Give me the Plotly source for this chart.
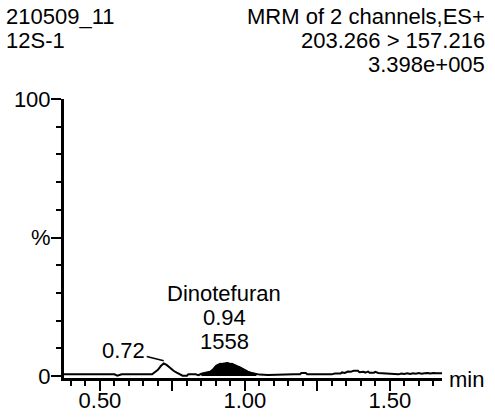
import plotly.graph_objects as go

# Chromatogram trace (retention time in min, intensity in % of full scale)
time_min = [0.376, 0.550, 0.560, 0.575, 0.680, 0.700, 0.710, 0.720, 0.730, 0.745,
            0.755, 0.765, 0.775, 0.785, 0.800, 0.805, 0.830, 0.840, 0.850, 0.860,
            0.870, 0.880, 0.890, 0.895, 0.900, 0.905, 0.910, 0.915, 0.920, 0.925,
            0.930, 0.935, 0.940, 0.945, 0.950, 0.955, 0.960, 0.965, 0.970, 0.975,
            0.980, 0.985, 0.990, 0.995, 1.000, 1.005, 1.010, 1.020, 1.030, 1.040,
            1.050, 1.080, 1.100, 1.150, 1.160, 1.170, 1.190, 1.195, 1.210, 1.215,
            1.300, 1.310, 1.330, 1.335, 1.345, 1.355, 1.365, 1.375, 1.390, 1.395,
            1.410, 1.415, 1.425, 1.430, 1.445, 1.450, 1.460, 1.480, 1.500, 1.520,
            1.530, 1.540, 1.550, 1.560, 1.570, 1.580, 1.590, 1.600, 1.610, 1.620,
            1.630, 1.640, 1.650, 1.660, 1.680]
intensity = [0.6, 0.6, 0.1, 0.6, 0.6, 2.2, 3.6, 4.5, 4.0, 2.6,
             1.8, 1.2, 0.6, 0.1, 0.1, 0.6, 0.6, 0.3, 0.8, 1.0,
             1.3, 1.5, 2.3, 3.0, 3.6, 3.9, 4.2, 4.4, 4.3, 4.5,
             4.5, 4.6, 4.7, 4.5, 4.3, 4.4, 4.1, 3.9, 3.8, 3.5,
             3.3, 3.0, 2.7, 2.4, 2.2, 1.9, 1.6, 1.2, 0.9, 0.7,
             0.5, 0.4, 0.5, 0.5, 0.7, 0.6, 0.6, 1.1, 1.1, 0.6,
             0.6, 0.9, 0.9, 1.3, 1.1, 1.6, 1.5, 1.9, 1.9, 1.4,
             1.5, 1.2, 1.6, 1.2, 1.2, 1.5, 1.1, 1.0, 0.9, 0.9,
             0.6, 0.9, 0.7, 1.0, 0.7, 1.0, 0.8, 1.1, 0.8, 1.0,
             1.1, 0.9, 1.1, 1.0, 1.0]

# Integrated peak window
peak_start, peak_end = 0.845, 1.045
peak_name = "Dinotefuran"
peak_rt = 0.94
peak_area = 1558
minor_peak_rt = 0.72

header_left = ["210509_11", "12S-1"]
header_right = ["MRM of 2 channels,ES+", "203.266 > 157.216", "3.398e+005"]

x_major = [0.50, 0.75, 1.00, 1.25, 1.50]
x_major_text = ["0.50", "", "1.00", "", "1.50"]
y_major = [0, 50, 100]
y_major_text = ["0", "%", "100"]

FONT = "Liberation Sans, Arial, sans-serif"
FS = 22
W, H = 495, 417
L, R, T, B = 64, 53, 99, 39

def px_x(p):
    return (p - L) / (W - L - R)

def px_y(p):
    return (H - B - p) / (H - T - B)

fig = go.Figure()

pk_x = [t for t in time_min if peak_start <= t <= peak_end]
pk_y = [v for t, v in zip(time_min, intensity) if peak_start <= t <= peak_end]
fig.add_trace(go.Scatter(x=pk_x, y=pk_y, mode="lines", fill="tozeroy",
                         fillcolor="black", line=dict(color="black", width=1),
                         hoverinfo="skip"))
fig.add_trace(go.Scatter(x=time_min, y=intensity, mode="lines",
                         line=dict(color="black", width=2)))

annotations = []
for i, s in enumerate(header_left):
    annotations.append(dict(text=s, xref="paper", yref="paper", x=px_x(4),
                            y=px_y(17 + 23.5 * i), xanchor="left", yanchor="middle",
                            showarrow=False))
for i, s in enumerate(header_right):
    annotations.append(dict(text=s, xref="paper", yref="paper", x=px_x(487),
                            y=px_y(17 + 23.5 * i), xanchor="right", yanchor="middle",
                            showarrow=False))
annotations.append(dict(text="min", xref="paper", yref="paper", x=px_x(447),
                        y=px_y(379), xanchor="left", yanchor="middle",
                        showarrow=False))

# Peak label: name, retention time and area stacked above the apex
pk_top = max(pk_y)
for i, s in enumerate([peak_name, f"{peak_rt:.2f}", f"{peak_area}"]):
    annotations.append(dict(text=s, x=peak_rt, y=pk_top, xanchor="center",
                            yanchor="middle", yshift=-(294 + 24 * i - 363),
                            xshift=-3, showarrow=False))

minor_top = max(v for t, v in zip(time_min, intensity) if abs(t - minor_peak_rt) < 0.03)
annotations.append(dict(text=f"{minor_peak_rt:.2f}", x=minor_peak_rt, y=minor_top + 1.0,
                        showarrow=True, arrowhead=0, arrowwidth=1.4, arrowcolor="black",
                        ax=-40, ay=-10, standoff=0))

fig.update_layout(
    width=W, height=H, margin=dict(l=L, r=R, t=T, b=B),
    paper_bgcolor="white", plot_bgcolor="white", showlegend=False,
    font=dict(family=FONT, size=FS, color="black"),
    annotations=annotations,
    xaxis=dict(range=[0.376, 1.68], showgrid=False, zeroline=False, automargin=False,
               showline=True, linecolor="black", linewidth=3,
               tickvals=x_major, ticktext=x_major_text, ticks="outside",
               ticklen=10, tickwidth=2, tickcolor="black", ticklabelstandoff=-9,
               minor=dict(dtick=0.05, tick0=0.0, ticks="outside", ticklen=5,
                          tickwidth=2, tickcolor="black")),
    yaxis=dict(range=[-0.72, 100], showgrid=False, zeroline=False, automargin=False,
               showline=True, linecolor="black", linewidth=3,
               tickvals=y_major, ticktext=y_major_text, ticks="outside",
               ticklen=10, tickwidth=2, tickcolor="black", ticklabelstandoff=-4,
               minor=dict(dtick=10, tick0=0, ticks="outside", ticklen=5,
                          tickwidth=2, tickcolor="black")),
)

fig.write_html("out.html")
